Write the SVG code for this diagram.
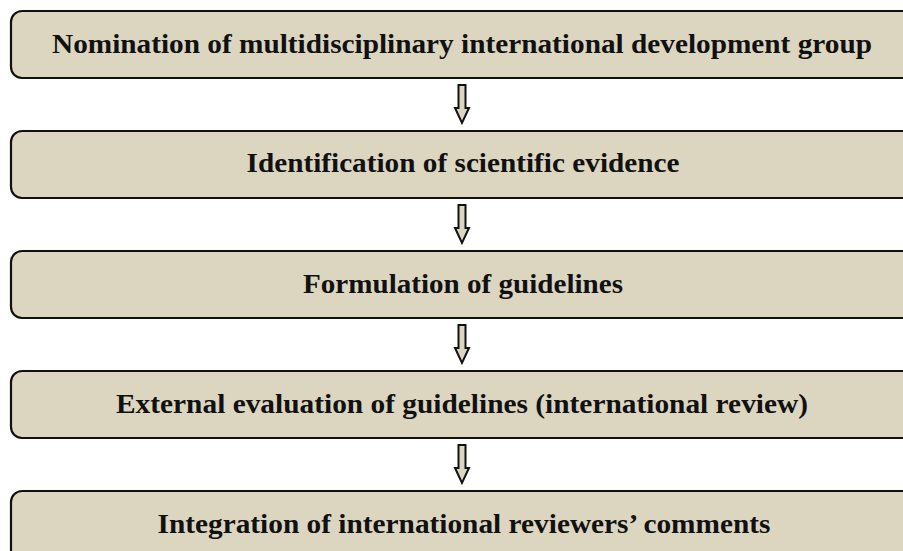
<svg xmlns="http://www.w3.org/2000/svg" width="903" height="551" viewBox="0 0 903 551">
<style>
.box{fill:#DCD6C1;stroke:#111;stroke-width:2.2}
.t{font-family:"Liberation Serif","DejaVu Serif",serif;font-weight:bold;font-size:27px;fill:#111;text-anchor:middle}
.arr{fill:#DCD6C1;stroke:#111;stroke-width:2;stroke-linejoin:miter}
</style>
<defs>
<path id="dn" d="M-3.5,0 H3.5 V23 H7 L0,38 L-7,23 H-3.5 Z"/>
</defs>
<rect width="903" height="551" fill="#fff"/>
<g id="n1"><rect class="box" x="11" y="11" width="905" height="67" rx="11"/><text class="t" x="462" y="53" textLength="820" lengthAdjust="spacingAndGlyphs">Nomination of multidisciplinary international development group</text></g>
<g id="n2"><rect class="box" x="11" y="131" width="905" height="67" rx="11"/><text class="t" x="463" y="172" textLength="433" lengthAdjust="spacingAndGlyphs">Identification of scientific evidence</text></g>
<g id="n3"><rect class="box" x="11" y="251" width="905" height="67" rx="11"/><text class="t" x="463" y="293" textLength="320" lengthAdjust="spacingAndGlyphs">Formulation of guidelines</text></g>
<g id="n4"><rect class="box" x="11" y="371" width="905" height="67" rx="11"/><text class="t" x="462" y="413" textLength="692" lengthAdjust="spacingAndGlyphs">External evaluation of guidelines (international review)</text></g>
<g id="n5"><rect class="box" x="11" y="491" width="905" height="80" rx="11"/><text class="t" x="464" y="533" textLength="613" lengthAdjust="spacingAndGlyphs">Integration of international reviewers’ comments</text></g>
<g id="connectors">
<use href="#dn" class="arr" x="462" y="85"/>
<use href="#dn" class="arr" x="462" y="205"/>
<use href="#dn" class="arr" x="462" y="325"/>
<use href="#dn" class="arr" x="462" y="445"/>
</g>
</svg>
